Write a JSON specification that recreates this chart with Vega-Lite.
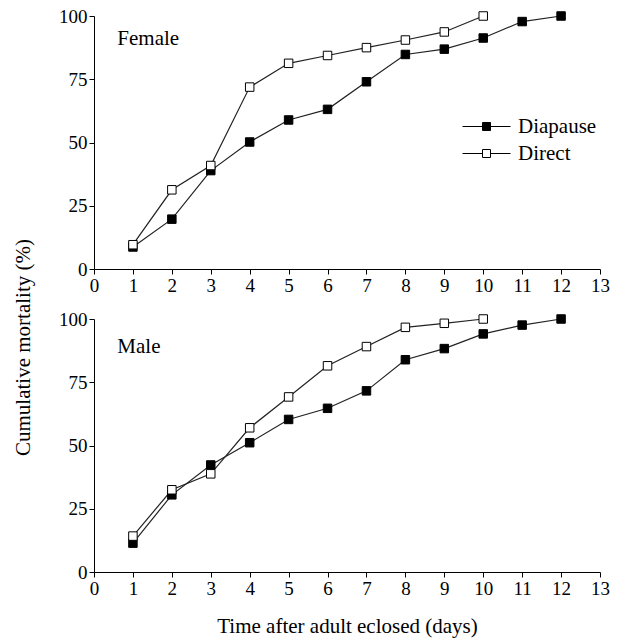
{
  "$schema": "https://vega.github.io/schema/vega-lite/v6.json",
  "background": "white",
  "padding": {"left": 12, "top": 7, "right": 19, "bottom": 2},
  "datasets": {
    "mort": [
      {"sex": "Female", "series": "Diapause", "day": 1, "mortality": 8.7},
      {"sex": "Female", "series": "Diapause", "day": 2, "mortality": 19.7},
      {"sex": "Female", "series": "Diapause", "day": 3, "mortality": 38.9},
      {"sex": "Female", "series": "Diapause", "day": 4, "mortality": 50.2},
      {"sex": "Female", "series": "Diapause", "day": 5, "mortality": 58.9},
      {"sex": "Female", "series": "Diapause", "day": 6, "mortality": 63.1},
      {"sex": "Female", "series": "Diapause", "day": 7, "mortality": 74.0},
      {"sex": "Female", "series": "Diapause", "day": 8, "mortality": 84.8},
      {"sex": "Female", "series": "Diapause", "day": 9, "mortality": 86.9},
      {"sex": "Female", "series": "Diapause", "day": 10, "mortality": 91.3},
      {"sex": "Female", "series": "Diapause", "day": 11, "mortality": 97.8},
      {"sex": "Female", "series": "Diapause", "day": 12, "mortality": 100},
      {"sex": "Female", "series": "Direct", "day": 1, "mortality": 9.6},
      {"sex": "Female", "series": "Direct", "day": 2, "mortality": 31.3},
      {"sex": "Female", "series": "Direct", "day": 3, "mortality": 40.9},
      {"sex": "Female", "series": "Direct", "day": 4, "mortality": 71.9},
      {"sex": "Female", "series": "Direct", "day": 5, "mortality": 81.3},
      {"sex": "Female", "series": "Direct", "day": 6, "mortality": 84.4},
      {"sex": "Female", "series": "Direct", "day": 7, "mortality": 87.5},
      {"sex": "Female", "series": "Direct", "day": 8, "mortality": 90.5},
      {"sex": "Female", "series": "Direct", "day": 9, "mortality": 93.7},
      {"sex": "Female", "series": "Direct", "day": 10, "mortality": 100},
      {"sex": "Male", "series": "Diapause", "day": 1, "mortality": 11.4},
      {"sex": "Male", "series": "Diapause", "day": 2, "mortality": 30.5},
      {"sex": "Male", "series": "Diapause", "day": 3, "mortality": 42.3},
      {"sex": "Male", "series": "Diapause", "day": 4, "mortality": 51.1},
      {"sex": "Male", "series": "Diapause", "day": 5, "mortality": 60.3},
      {"sex": "Male", "series": "Diapause", "day": 6, "mortality": 64.7},
      {"sex": "Male", "series": "Diapause", "day": 7, "mortality": 71.6},
      {"sex": "Male", "series": "Diapause", "day": 8, "mortality": 83.9},
      {"sex": "Male", "series": "Diapause", "day": 9, "mortality": 88.3},
      {"sex": "Male", "series": "Diapause", "day": 10, "mortality": 94.1},
      {"sex": "Male", "series": "Diapause", "day": 11, "mortality": 97.6},
      {"sex": "Male", "series": "Diapause", "day": 12, "mortality": 100},
      {"sex": "Male", "series": "Direct", "day": 1, "mortality": 14.2},
      {"sex": "Male", "series": "Direct", "day": 2, "mortality": 32.5},
      {"sex": "Male", "series": "Direct", "day": 3, "mortality": 38.8},
      {"sex": "Male", "series": "Direct", "day": 4, "mortality": 57.0},
      {"sex": "Male", "series": "Direct", "day": 5, "mortality": 69.2},
      {"sex": "Male", "series": "Direct", "day": 6, "mortality": 81.5},
      {"sex": "Male", "series": "Direct", "day": 7, "mortality": 89.1},
      {"sex": "Male", "series": "Direct", "day": 8, "mortality": 96.7},
      {"sex": "Male", "series": "Direct", "day": 9, "mortality": 98.3},
      {"sex": "Male", "series": "Direct", "day": 10, "mortality": 100}
    ],
    "panels": [
      {"panel": "Female", "day": 0.6, "mortality": 91},
      {"panel": "Male", "day": 0.6, "mortality": 89}
    ]
  },
  "config": {
    "view": {"stroke": null},
    "axis": {"grid": false, "domainColor": "black", "tickColor": "black", "labelColor": "black", "titleColor": "black", "tickSize": 5}
  },
  "bounds": "flush",
  "spacing": 50,
  "vconcat": [
    {
      "width": 506,
      "height": 253,
      "encoding": {
        "x": {"field": "day", "type": "quantitative", "scale": {"domain": [0, 13], "nice": false}, "axis": {"values": [0,1,2,3,4,5,6,7,8,9,10,11,12,13], "labelOverlap": false, "labelFlush": false, "labelFontSize": 19, "labelFont": "Liberation Serif", "labelPadding": 2, "title": null}},
        "y": {"field": "mortality", "type": "quantitative", "scale": {"domain": [0, 100], "nice": false}, "axis": {"values": [0,25,50,75,100], "labelFontSize": 19, "labelFont": "Liberation Serif", "labelPadding": 2, "title": "Cumulative mortality (%)", "titleFont": "Liberation Serif", "titleFontSize": 21, "titleFontWeight": "normal", "titleY": 331, "titleX": -71, "titleBaseline": "middle", "titleAlign": "center", "titleAngle": -90}}
      },
      "layer": [
        {
          "data": {"name": "mort"},
          "transform": [{"filter": "datum.sex === 'Female'"}],
          "mark": {"type": "line", "color": "#222", "strokeWidth": 1.2},
          "encoding": {"detail": {"field": "series"}}
        },
        {
          "data": {"name": "mort"},
          "transform": [{"filter": "datum.sex === 'Female'"}],
          "mark": {"type": "point", "shape": "square", "filled": true, "stroke": "black", "strokeWidth": 1, "size": 72, "opacity": 1},
          "encoding": {
            "fill": {
              "field": "series", "type": "nominal",
              "scale": {"domain": ["Diapause", "Direct"], "range": ["black", "white"]},
              "legend": {
                "title": null,
                "orient": "none",
                "legendX": 382,
                "legendY": 100,
                "padding": 0,
                "symbolType": "M-6,0H-1M1,0H6M-1,-1H1V1H-1Z",
                "symbolSize": 64,
                "symbolStrokeColor": "black",
                "symbolStrokeWidth": 1,
                "labelFont": "Liberation Serif",
                "labelFontSize": 21,
                "labelColor": "black",
                "labelOffset": 21,
                "rowPadding": 5,
                "encode": {"symbols": {"update": {"shape": {"value": "M-6,0H-1M1,0H6M-1,-1H1V1H-1Z"}, "stroke": {"value": "black"}, "strokeWidth": {"value": 1}}}}
              }
            }
          }
        },
        {
          "data": {"name": "panels"},
          "transform": [{"filter": "datum.panel === 'Female'"}],
          "mark": {"type": "text", "align": "left", "baseline": "middle", "fontSize": 21, "font": "Liberation Serif", "color": "black"},
          "encoding": {"text": {"field": "panel"}}
        }
      ]
    },
    {
      "width": 506,
      "height": 253,
      "encoding": {
        "x": {"field": "day", "type": "quantitative", "scale": {"domain": [0, 13], "nice": false}, "axis": {"values": [0,1,2,3,4,5,6,7,8,9,10,11,12,13], "labelOverlap": false, "labelFlush": false, "labelFontSize": 19, "labelFont": "Liberation Serif", "labelPadding": 2, "title": "Time after adult eclosed (days)", "titleFont": "Liberation Serif", "titleFontSize": 21, "titleFontWeight": "normal", "titlePadding": 17}},
        "y": {"field": "mortality", "type": "quantitative", "scale": {"domain": [0, 100], "nice": false}, "axis": {"values": [0,25,50,75,100], "labelFontSize": 19, "labelFont": "Liberation Serif", "labelPadding": 2, "title": null}}
      },
      "layer": [
        {
          "data": {"name": "mort"},
          "transform": [{"filter": "datum.sex === 'Male'"}],
          "mark": {"type": "line", "color": "#222", "strokeWidth": 1.2},
          "encoding": {"detail": {"field": "series"}}
        },
        {
          "data": {"name": "mort"},
          "transform": [{"filter": "datum.sex === 'Male'"}],
          "mark": {"type": "point", "shape": "square", "filled": true, "stroke": "black", "strokeWidth": 1, "size": 72, "opacity": 1},
          "encoding": {
            "fill": {"field": "series", "type": "nominal", "scale": {"domain": ["Diapause", "Direct"], "range": ["black", "white"]}, "legend": null}
          }
        },
        {
          "data": {"name": "panels"},
          "transform": [{"filter": "datum.panel === 'Male'"}],
          "mark": {"type": "text", "align": "left", "baseline": "middle", "fontSize": 21, "font": "Liberation Serif", "color": "black"},
          "encoding": {"text": {"field": "panel"}}
        }
      ]
    }
  ]
}
